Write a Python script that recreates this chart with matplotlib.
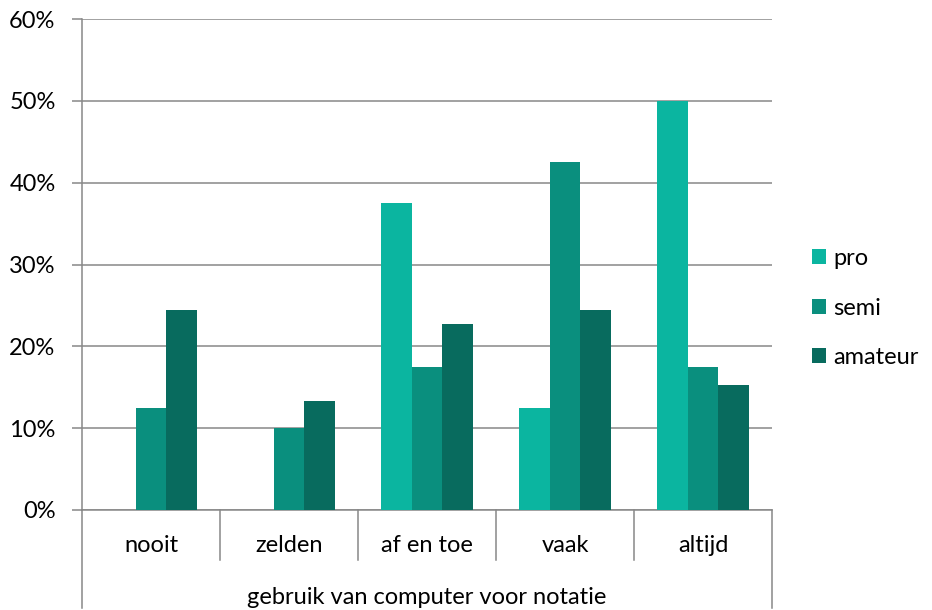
import matplotlib.pyplot as plt
import matplotlib.transforms as mtransforms
import numpy as np

# survey data: share per answer, per group
categories = ["nooit", "zelden", "af en toe", "vaak", "altijd"]
series = ["pro", "semi", "amateur"]
pro = [0.0, 0.0, 37.5, 12.5, 50.0]
semi = [12.5, 10.0, 17.5, 42.5, 17.5]
amateur = [24.5, 13.3, 22.7, 24.5, 15.3]
group_label = "gebruik van computer voor notatie"
yticks = [0, 10, 20, 30, 40, 50, 60]

colors = ["#0bb5a0", "#0a8f7e", "#086b5e"]
grey = "#888888"
fs = 17

plt.rcParams['font.family'] = ['Lato', 'DejaVu Sans']

fig = plt.figure(figsize=(9.32, 6.10), dpi=100)
ax = fig.add_axes([82/932, 100/610, 690/932, 491/610])

x = np.arange(len(categories))
w = 0.222
for i, (vals, name) in enumerate(zip([pro, semi, amateur], series)):
    ax.bar(x + (i - 1)*w, vals, w, color=colors[i], label=name, zorder=3)

ax.set_xlim(-0.5, len(categories) - 0.5)
ax.set_ylim(0, 60)
ax.set_yticks(yticks)
ax.set_yticklabels([f"{t}%" for t in yticks], fontsize=fs)
ax.yaxis.grid(True, color=grey, lw=1.1)
ax.set_axisbelow(True)
ax.tick_params(axis='y', length=7, color=grey, width=1.1, pad=12)
ax.set_xticks([])
for s in ["top", "right"]:
    ax.spines[s].set_visible(False)
for s in ["left", "bottom"]:
    ax.spines[s].set_color(grey)
    ax.spines[s].set_linewidth(1.1)

# category table below the axis
trans = mtransforms.blended_transform_factory(ax.transData, ax.transAxes)
bottom = -(98/491)
sep = -(50/491)
edges = np.arange(len(categories) + 1) - 0.5
for e in edges:
    y0 = bottom if e in (edges[0], edges[-1]) else sep
    ax.plot([e, e], [0, y0], color=grey, lw=1.1, transform=trans, clip_on=False)
for xi, c in zip(x, categories):
    ax.text(xi, -(35/491), c, transform=trans, ha='center', va='center', fontsize=fs)
ax.text(np.mean(x), -(87/491), group_label, transform=trans, ha='center', va='center', fontsize=fs)

fig.legend(loc='center left', bbox_to_anchor=(812/932, 1 - 308/610), frameon=False,
           fontsize=fs, handlelength=0.6, handleheight=0.6, handletextpad=0.3,
           labelspacing=1.2, borderpad=0, borderaxespad=0)

fig.savefig("out.png", dpi=100)
